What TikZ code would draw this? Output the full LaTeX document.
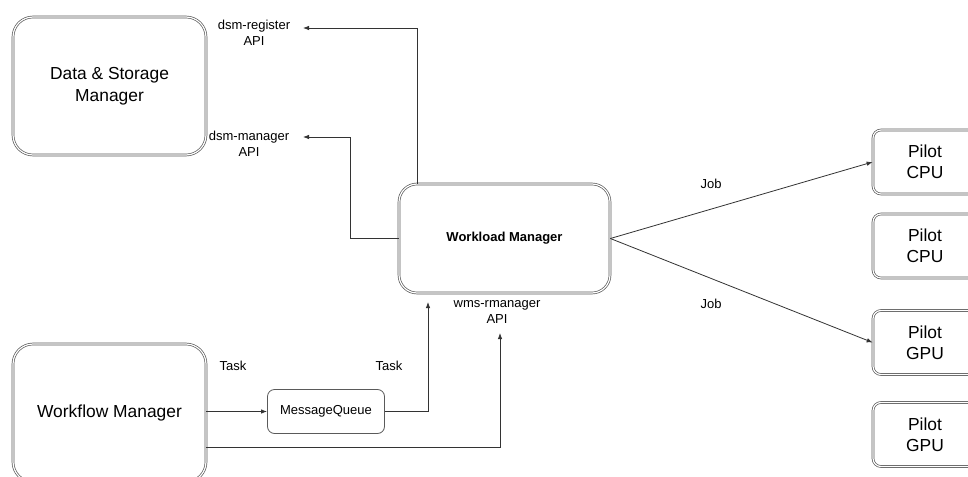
\documentclass[tikz,border=0pt]{standalone}
\usepackage{fontspec}
\setmainfont{Liberation Sans}
\usetikzlibrary{arrows.meta,calc}
\definecolor{edge}{HTML}{333333}
\definecolor{frame}{HTML}{5a5a5a}
\tikzset{
  dbox/.style={draw=frame, double=white, double distance=1.2pt, line width=0.7pt,
    rounded corners=#1, inner sep=0pt, align=center},
  dbox/.default=18pt,
  sbox/.style={draw=frame, line width=0.8pt, rounded corners=7pt, inner sep=0pt, align=center},
  bigtxt/.style={font=\fontsize{17.4}{22}\selectfont},
  smalltxt/.style={font=\fontsize{13}{15.5}\selectfont, align=center, inner sep=1pt},
  arr/.style={draw=edge, line width=0.8pt, -{Latex[length=6pt,width=4.5pt]}},
  ln/.style={draw=edge, line width=0.8pt}
}
\begin{document}
\begin{tikzpicture}[x=1pt,y=-1pt]
\useasboundingbox (0,0) rectangle (968,476);
\fill[white] (0,0) rectangle (968,476);

% main components
\node[dbox=20pt, bigtxt, minimum width=193pt, minimum height=138pt] (dsm) at (109.5,86) {Data \& Storage\\Manager};
\node[dbox=18pt, minimum width=211pt, minimum height=109pt, font=\fontsize{13}{15.5}\selectfont\bfseries] (wm) at (504.5,238.5) {Workload Manager};
\node[dbox=20pt, bigtxt, minimum width=193pt, minimum height=138pt] (wf) at (109.5,413) {Workflow Manager};
\node[sbox, minimum width=117pt, minimum height=44pt, font=\fontsize{13}{15.5}\selectfont] (mq) at (326,411.5) {MessageQueue};

% pilots
\tikzset{pilot/.style={dbox=8pt, font=\fontsize{17.4}{21}\selectfont, minimum width=104pt, minimum height=64pt}}
\node[pilot] (p1) at (925,162) {Pilot\\CPU};
\node[pilot] (p2) at (925,246) {Pilot\\CPU};
\node[pilot] (p3) at (925,342.5) {Pilot\\GPU};
\node[pilot] (p4) at (925,434.5) {Pilot\\GPU};

% API and edge labels
\node[smalltxt] (reg) at (254,33) {dsm-register\\API};
\node[smalltxt] (man) at (249,144) {dsm-manager\\API};
\node[smalltxt] (wms) at (497,312) {wms-rmanager\\API};
\node[smalltxt] (t1) at (233,366) {Task};
\node[smalltxt] (t2) at (389,366) {Task};
\node[smalltxt] (j1) at (711,184) {Job};
\node[smalltxt] (j2) at (711,304) {Job};

% free ends of the API arrows
\coordinate (regtip) at (303,28);
\coordinate (mantip) at (303,137);
\coordinate (wmtip) at (428,302);

% workload manager to data & storage APIs
\draw[arr] (wm.north -| 417,0) -- (417,28) -- (regtip);
\draw[arr] (wm.west) -- (350,238.5) -- (350,137) -- (mantip);

% jobs to pilots
\draw[arr] (wm.east) -- (p1.west);
\draw[arr] (wm.east) -- (p3.west);

% task flow
\draw[arr] (wf.east |- mq.west) -- (mq.west);
\draw[arr] (mq.east) -- (428,411.5) -- (wmtip);
\draw[arr] (206,447) -- (500,447) -- (500,333);
\end{tikzpicture}
\end{document}
